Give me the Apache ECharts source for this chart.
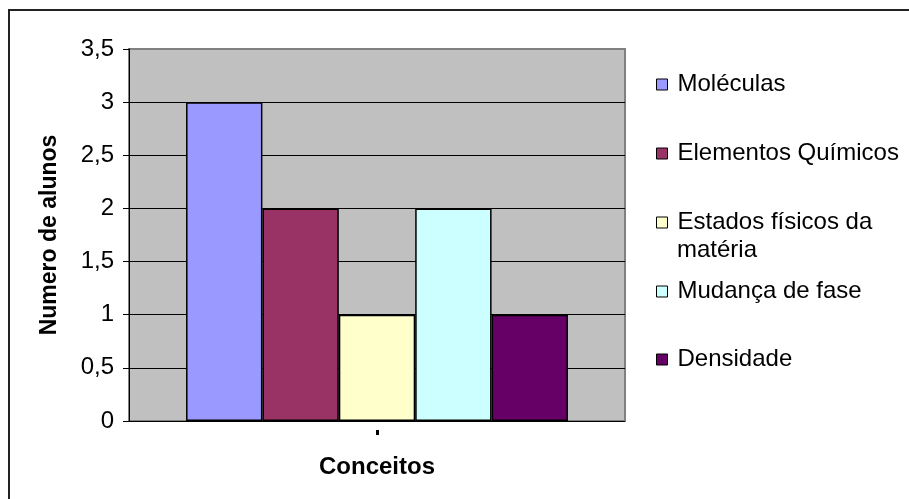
<!DOCTYPE html>
<html>
<head>
<meta charset="utf-8">
<script src="https://cdn.jsdelivr.net/npm/echarts@6/dist/echarts.min.js"></script>
<style>
  html, body { margin: 0; padding: 0; background: #fff; }
  #chart { width: 909px; height: 499px; }
</style>
</head>
<body>
<div id="chart"></div>
<script>
// data
let categories = ['']
let seriesNames = ['Moléculas', 'Elementos Químicos', 'Estados físicos da matéria', 'Mudança de fase', 'Densidade']
let seriesValues = [[3], [2], [1], [2], [1]]
let seriesColors = ['#9999FF', '#993366', '#FFFFCC', '#CCFFFF', '#660066']
let yTicks = { min: 0, max: 3.5, interval: 0.5 }

let font = 'Liberation Sans, Arial, sans-serif'
let legendTops = [71, 140, 209, 278, 346]

let myChart = echarts.init(document.getElementById('chart'))

let legends = seriesNames.map(function (name, i) {
  return {
    data: [name],
    left: 656,
    top: legendTops[i],
    padding: 0,
    itemWidth: 11,
    itemHeight: 11,
    icon: 'rect',
    itemStyle: { borderColor: '#000', borderWidth: 1 },
    formatter: function (n) {
      return n === 'Estados físicos da matéria' ? 'Estados físicos da' : n
    },
    textStyle: {
      color: '#000',
      fontFamily: font,
      fontSize: 24,
      lineHeight: 27,
      padding: [0, 0, 0, 5]
    },
    selectedMode: false
  }
})

myChart.setOption({
  animation: false,
  backgroundColor: '#fff',
  textStyle: { fontFamily: font },
  graphic: [
    {
      type: 'rect',
      shape: { x: 9, y: 10, width: 1000, height: 1000 },
      style: { fill: 'none', stroke: '#222', lineWidth: 2 },
      silent: true
    },
    {
      type: 'text',
      left: 677,
      top: 238,
      style: { text: 'matéria', fill: '#000', font: '24px ' + font }
    }
  ],
  grid: {
    show: true,
    left: 129,
    right: 284,
    top: 49,
    bottom: 78,
    backgroundColor: '#C0C0C0',
    borderColor: '#808080',
    borderWidth: 2
  },
  legend: legends,
  xAxis: {
    type: 'category',
    data: categories,
    offset: 9,
    name: 'Conceitos',
    nameLocation: 'middle',
    nameGap: 25,
    nameTextStyle: { color: '#000', fontSize: 24, fontWeight: 'bold', fontFamily: font },
    axisLine: { show: true, onZero: false, lineStyle: { color: 'rgba(0,0,0,0)' } },
    axisTick: { show: true, alignWithLabel: true, length: 5, lineStyle: { color: '#000', width: 3 } },
    axisLabel: { show: false },
    splitLine: { show: false }
  },
  yAxis: {
    type: 'value',
    min: yTicks.min,
    max: yTicks.max,
    interval: yTicks.interval,
    name: 'Numero de alunos',
    nameLocation: 'middle',
    nameGap: 68,
    nameRotate: 90,
    nameTextStyle: { color: '#000', fontSize: 23, fontWeight: 'bold', fontFamily: font },
    axisLine: { show: true, lineStyle: { color: '#000', width: 1 } },
    axisTick: { show: true, length: 6, lineStyle: { color: '#000' } },
    axisLabel: {
      color: '#000',
      fontSize: 24,
      fontFamily: font,
      margin: 15,
      formatter: function (v) { return String(v).replace('.', ',') }
    },
    splitLine: {
      show: true,
      lineStyle: { color: ['#000', '#000', '#000', '#000', '#000', '#000', '#000', '#808080'], width: 1 }
    }
  },
  series: seriesNames.map(function (name, i) {
    return {
      name: name,
      type: 'bar',
      data: seriesValues[i],
      barGap: '0%',
      barCategoryGap: '23%',
      itemStyle: { color: seriesColors[i], borderColor: '#000', borderWidth: 1.5 }
    }
  })
})
</script>
</body>
</html>
